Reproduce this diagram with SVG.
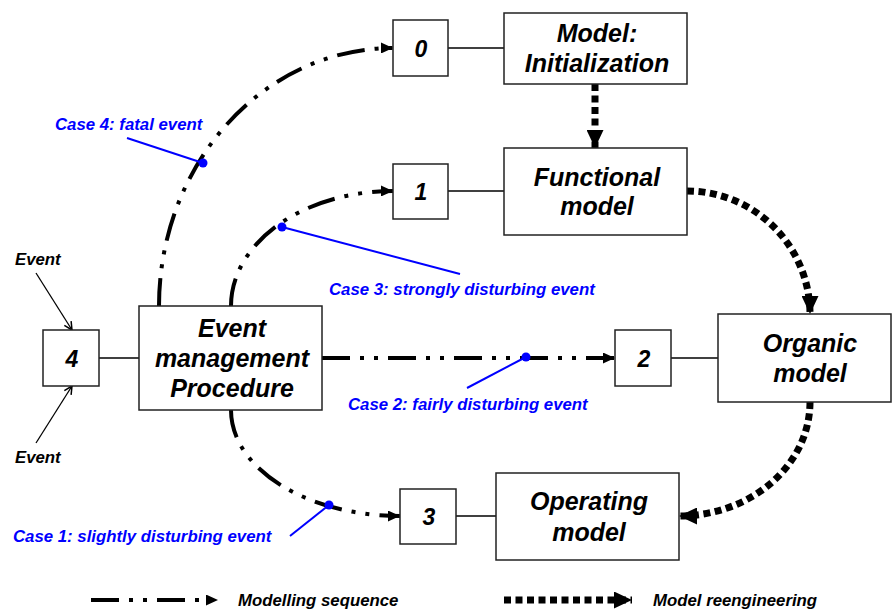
<svg xmlns="http://www.w3.org/2000/svg" width="892" height="610" viewBox="0 0 892 610">
<style>
.box{fill:#fff;stroke:#222;stroke-width:1.5}
.nt{font-family:"Liberation Sans",Arial,sans-serif;font-weight:bold;font-style:italic;font-size:25px;fill:#000;text-anchor:middle}
.num{font-family:"Liberation Sans",Arial,sans-serif;font-weight:bold;font-style:italic;font-size:23px;fill:#000;text-anchor:middle}
.lbl{font-family:"Liberation Sans",Arial,sans-serif;font-weight:bold;font-style:italic;font-size:16.8px}
.blue{fill:#0000ff}
.thin{stroke:#000;stroke-width:1.3;fill:none}
.seq{stroke:#000;stroke-width:4;fill:none;stroke-dasharray:28 10 4 10 4 10;marker-end:url(#seqA)}
.re{stroke:#000;stroke-width:7;fill:none;stroke-dasharray:7 4.5;marker-end:url(#reA)}
.call{stroke:#0000ff;stroke-width:2;fill:none}
.dot{fill:#0000ff}
</style>
<defs>
<marker id="seqA" viewBox="0 0 12 11" refX="12" refY="5.5" markerWidth="12" markerHeight="11" markerUnits="userSpaceOnUse" orient="auto"><path d="M0,0 L12,5.5 L0,11 z" fill="#000"/></marker>
<marker id="reA" viewBox="0 0 18 17" refX="18" refY="8.5" markerWidth="18" markerHeight="17" markerUnits="userSpaceOnUse" orient="auto"><path d="M0,0 L18,8.5 L0,17 z" fill="#000"/></marker>
<marker id="evA" viewBox="0 0 10 10" refX="9" refY="5" markerWidth="10" markerHeight="10" markerUnits="userSpaceOnUse" orient="auto"><path d="M1,1 L9,5 L1,9" fill="none" stroke="#000" stroke-width="1.5"/></marker>
</defs>
<rect width="892" height="610" fill="#fff"/>

<g id="connectors">
<line class="thin" x1="448" y1="48" x2="504" y2="48"/>
<line class="thin" x1="448" y1="191" x2="504" y2="191"/>
<line class="thin" x1="99" y1="358" x2="139" y2="358"/>
<line class="thin" x1="671" y1="358" x2="718" y2="358"/>
<line class="thin" x1="456" y1="516" x2="496" y2="516"/>
<line class="thin" x1="36" y1="273" x2="72" y2="330" marker-end="url(#evA)"/>
<line class="thin" x1="36" y1="443" x2="72" y2="386" marker-end="url(#evA)"/>
<path class="seq" d="M159,306 A234,258 0 0 1 393,48"/>
<path class="seq" d="M231,306 A162,115 0 0 1 393,191"/>
<path class="seq" d="M322,358 L615,358"/>
<path class="seq" d="M231,410 A169,106 0 0 0 400,516"/>
<path class="re" d="M595,84 L595,148"/>
<path class="re" d="M687,191 A123,123 0 0 1 810,314"/>
<path class="re" d="M810,402 A131,114 0 0 1 679,516"/>
</g>

<g id="node-0"><rect class="box" x="393" y="20" width="55" height="56"/><text class="num" x="421" y="57">0</text></g>
<g id="node-init"><rect class="box" x="504" y="13" width="183" height="71"/><text class="nt" x="597" y="42">Model:</text><text class="nt" x="597" y="72">Initialization</text></g>
<g id="node-1"><rect class="box" x="393" y="164" width="55" height="55"/><text class="num" x="421" y="200">1</text></g>
<g id="node-functional"><rect class="box" x="504" y="148" width="183" height="87"/><text class="nt" x="597" y="186">Functional</text><text class="nt" x="597" y="215">model</text></g>
<g id="node-4"><rect class="box" x="43" y="330" width="56" height="56"/><text class="num" x="72" y="367">4</text></g>
<g id="node-event"><rect class="box" x="139" y="306" width="183" height="104"/><text class="nt" x="232" y="337">Event</text><text class="nt" x="232" y="367">management</text><text class="nt" x="232" y="397">Procedure</text></g>
<g id="node-2"><rect class="box" x="615" y="330" width="56" height="56"/><text class="num" x="644" y="367">2</text></g>
<g id="node-organic"><rect class="box" x="718" y="314" width="173" height="88"/><text class="nt" x="810" y="352">Organic</text><text class="nt" x="810" y="382">model</text></g>
<g id="node-3"><rect class="box" x="400" y="489" width="56" height="55"/><text class="num" x="429" y="525">3</text></g>
<g id="node-operating"><rect class="box" x="496" y="473" width="183" height="87"/><text class="nt" x="589" y="510">Operating</text><text class="nt" x="589" y="541">model</text></g>

<g id="events">
<text class="lbl" x="15" y="265">Event</text>
<text class="lbl" x="15" y="463">Event</text>
</g>

<g id="annotations">
<line class="call" x1="127" y1="138" x2="203" y2="163"/><circle class="dot" cx="203" cy="163" r="4.5"/>
<text class="lbl blue" x="55" y="130">Case 4: fatal event</text>
<line class="call" x1="282" y1="227" x2="460" y2="274"/><circle class="dot" cx="282" cy="227" r="4.5"/>
<text class="lbl blue" x="329" y="295">Case 3: strongly disturbing event</text>
<line class="call" x1="467" y1="388" x2="526" y2="357"/><circle class="dot" cx="526" cy="357" r="4.5"/>
<text class="lbl blue" x="348" y="410">Case 2: fairly disturbing event</text>
<line class="call" x1="290" y1="536" x2="329" y2="505"/><circle class="dot" cx="329" cy="505" r="4.5"/>
<text class="lbl blue" x="13" y="542">Case 1: slightly disturbing event</text>
</g>

<g id="legend">
<path class="seq" d="M91,600 L218,600"/>
<text class="lbl" x="238" y="606">Modelling sequence</text>
<path class="re" d="M504,600 L632,600"/>
<text class="lbl" x="653" y="606">Model reengineering</text>
</g>
</svg>
